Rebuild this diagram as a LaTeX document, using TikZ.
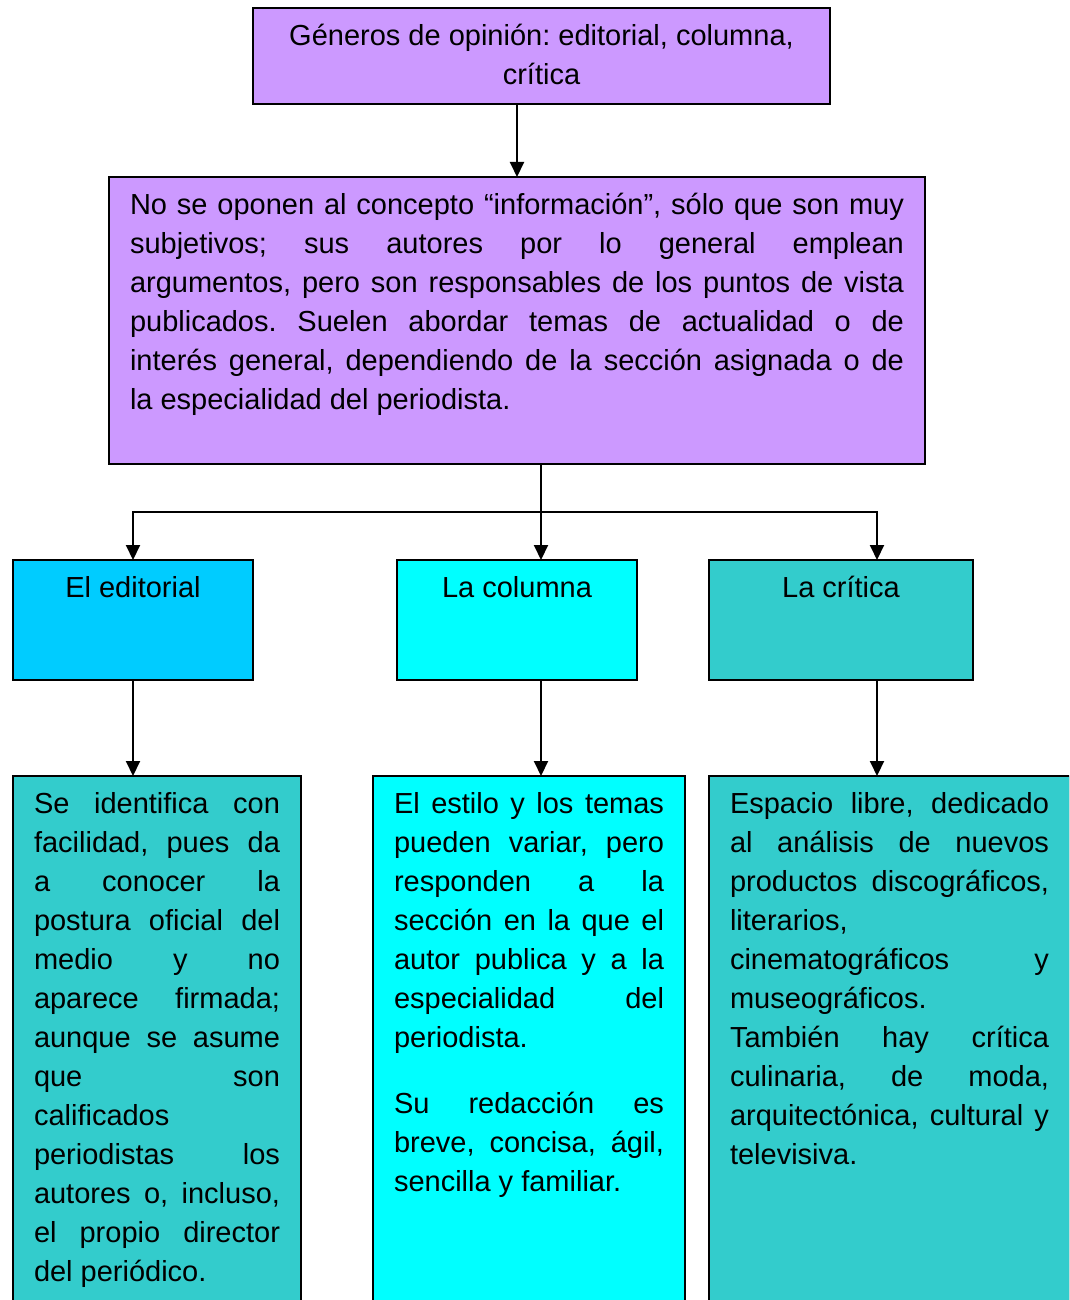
\documentclass[tikz,border=0pt]{standalone}
\usepackage{fontspec}
\setmainfont{Liberation Sans}
\usetikzlibrary{arrows.meta}

\definecolor{lila}{HTML}{CC99FF}
\definecolor{azul}{HTML}{00CCFF}
\definecolor{cian}{HTML}{00FFFF}
\definecolor{turquesa}{HTML}{33CCCC}

% fixed-size text block, text starting at the top
\newcommand\blocktext[3]{\parbox[t][#2][t]{#1}{\frenchspacing\tolerance=10000\hbadness=10000\strut #3}}

\tikzset{
  box/.style={draw, line width=2pt, inner xsep=21pt, inner ysep=10pt, outer sep=0pt,
              anchor=north west, font=\fontsize{29}{39}\selectfont},
  arr/.style={line width=2pt, -{Triangle[length=15pt,width=14pt]}},
  link/.style={line width=2pt},
}

\begin{document}
\begin{tikzpicture}[x=1pt,y=-1pt]
\useasboundingbox (0,0) rectangle (1069,1300);
\clip (0,0) rectangle (1069,1300);

% title and general description
\node[box, fill=lila] (top) at (253,8)
  {\blocktext{535pt}{76pt}{\centering Géneros de opinión: editorial, columna,\\ crítica}};
\node[box, fill=lila] (desc) at (109,177)
  {\blocktext{774pt}{267pt}{No se oponen al concepto “información”, sólo que son muy\linebreak
   subjetivos; sus autores por lo general emplean\linebreak
   argumentos, pero son responsables de los puntos de vista\linebreak
   publicados. Suelen abordar temas de actualidad o de\linebreak
   interés general, dependiendo de la sección asignada o de\linebreak
   la especialidad del periodista.}};

% the three genres
\node[box, fill=azul] (ed) at (13,560)
  {\blocktext{198pt}{100pt}{\centering El editorial}};
\node[box, fill=cian] (col) at (397,560)
  {\blocktext{198pt}{100pt}{\centering La columna}};
\node[box, fill=turquesa] (cri) at (709,560)
  {\blocktext{222pt}{100pt}{\centering La crítica}};

% their descriptions
\node[box, fill=turquesa] (edtxt) at (13,776)
  {\blocktext{246pt}{520pt}{Se identifica con\linebreak
   facilidad, pues da\linebreak
   a conocer la\linebreak
   postura oficial del\linebreak
   medio y no\linebreak
   aparece firmada;\linebreak
   aunque se asume\linebreak
   que son\linebreak
   calificados\linebreak
   periodistas los\linebreak
   autores o, incluso,\linebreak
   el propio director\linebreak
   del periódico.}};
\node[box, fill=cian] (coltxt) at (373,776)
  {\blocktext{270pt}{520pt}{El estilo y los temas\linebreak
   pueden variar, pero\linebreak
   responden a la\linebreak
   sección en la que el\linebreak
   autor publica y a la\linebreak
   especialidad del\linebreak
   periodista.\par\vspace{27pt}
   Su redacción es\linebreak
   breve, concisa, ágil,\linebreak
   sencilla y familiar.}};
\node[box, fill=turquesa] (critxt) at (709,776)
  {\blocktext{319pt}{520pt}{Espacio libre, dedicado\linebreak
   al análisis de nuevos\linebreak
   productos discográficos,\linebreak
   literarios,\linebreak
   cinematográficos y\linebreak
   museográficos.\par
   También hay crítica\linebreak
   culinaria, de moda,\linebreak
   arquitectónica, cultural y\linebreak
   televisiva.}};

% connectors
\coordinate (split) at (541,512);
\coordinate (rbranch) at (877,512);

\draw[arr] (top.south -| desc.north) -- (desc.north);
\draw[link] (desc.south -| split) -- (split);
\draw[arr] (split) -| (ed.north);
\draw[arr] (split) -- (split |- col.north);
\draw[arr] (split) -- (rbranch) -- (rbranch |- cri.north);

\draw[arr] (ed.south) -- (ed.south |- edtxt.north);
\draw[arr] (col.south -| split) -- (coltxt.north -| split);
\draw[arr] (cri.south -| rbranch) -- (critxt.north -| rbranch);
\end{tikzpicture}
\end{document}
